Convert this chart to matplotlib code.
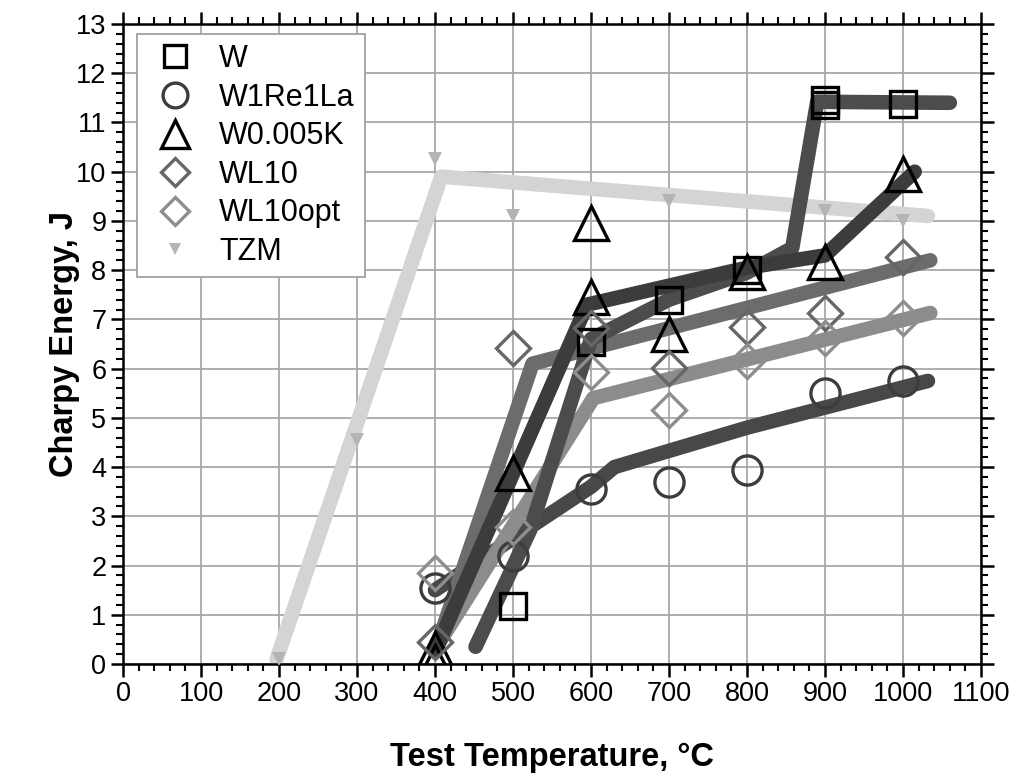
import numpy as np
import matplotlib
matplotlib.use("Agg")
import matplotlib.pyplot as plt
from matplotlib.ticker import MultipleLocator

plt.rcParams['font.family'] = ['Liberation Sans', 'DejaVu Sans']

# measured Charpy energies (J) vs test temperature (C)
w_T = [500, 600, 700, 800, 900, 900, 1000]
w_E = [1.18, 6.55, 7.4, 8.0, 11.35, 11.45, 11.38]
re_T = [400, 500, 600, 700, 800, 900, 1000]
re_E = [1.55, 2.2, 3.55, 3.7, 3.95, 5.5, 5.75]
k_T = [400, 400, 500, 600, 600, 700, 800, 900, 1000]
k_E = [0.05, 0.3, 3.88, 7.46, 8.96, 6.7, 7.97, 8.17, 9.95]
wl10_T = [400, 500, 600, 700, 800, 900, 1000]
wl10_E = [0.45, 6.42, 6.83, 6.02, 6.85, 7.13, 8.27]
opt_T = [400, 500, 600, 700, 800, 900, 1000]
opt_E = [1.85, 2.79, 5.93, 5.16, 6.15, 6.63, 7.03]
tzm_T = [200, 300, 400, 500, 700, 900, 1000]
tzm_E = [0.1, 4.55, 10.25, 9.1, 9.4, 9.2, 9.0]

# fitted trend lines (vertices)
tzm_fit_T = [197, 408, 1032]
tzm_fit_E = [0.1, 9.9, 9.1]
re_fit_T = [400, 600, 630, 800, 1032]
re_fit_E = [1.5, 3.6, 4.0, 4.8, 5.75]
k_fit_T = [400, 595, 800, 900, 1015]
k_fit_E = [0.25, 7.3, 8.05, 8.3, 10.0]
w_fit_T = [452, 522, 600, 700, 800, 858, 890, 1060]
w_fit_E = [0.35, 2.72, 6.6, 7.4, 7.95, 8.45, 11.42, 11.4]
wl10_fit_T = [400, 525, 1035]
wl10_fit_E = [0.25, 6.1, 8.2]
opt_fit_T = [400, 603, 1035]
opt_fit_E = [0.3, 5.4, 7.13]

fig = plt.figure(figsize=(10.21, 7.74), dpi=100)
ax = fig.add_axes([123/1021, 110/774, 858/1021, 640/774])

lw = 10.5
line_kw = dict(linewidth=lw, solid_capstyle='round', solid_joinstyle='round')
ax.plot(tzm_fit_T, tzm_fit_E, color='#d4d4d4', zorder=2, **line_kw)
ax.plot(re_fit_T, re_fit_E, color='#484848', zorder=3, **line_kw)
ax.plot(opt_fit_T, opt_fit_E, color='#8c8c8c', zorder=3, **line_kw)
ax.plot(wl10_fit_T, wl10_fit_E, color='#6c6c6c', zorder=3, **line_kw)
ax.plot(w_fit_T, w_fit_E, color='#4c4c4c', zorder=3, **line_kw)
ax.plot(k_fit_T, k_fit_E, color='#3c3c3c', zorder=3, **line_kw)

mk = dict(linestyle='none', markerfacecolor='none', markeredgewidth=2.4, zorder=5)
ax.plot(w_T, w_E, marker='s', markersize=19, markeredgecolor='black', label='W', **mk)
ax.plot(re_T, re_E, marker='o', markersize=21, markeredgecolor='#3c3c3c', label='W1Re1La', **mk)
ax.plot(k_T, k_E, marker='^', markersize=24, markeredgecolor='black', label='W0.005K', **mk)
ax.plot(wl10_T, wl10_E, marker='D', markersize=17, markeredgecolor='#666666', label='WL10', **mk)
ax.plot(opt_T, opt_E, marker='D', markersize=17, markeredgecolor='#8e8e8e', label='WL10opt', **mk)
ax.plot(tzm_T, tzm_E, linestyle='none', marker='v', markersize=10, color='#b4b4b4',
        markeredgewidth=0, label='TZM', zorder=4)

ax.set_xlim(0, 1100)
ax.set_ylim(0, 13)
ax.xaxis.set_major_locator(MultipleLocator(100))
ax.xaxis.set_minor_locator(MultipleLocator(20))
ax.yaxis.set_major_locator(MultipleLocator(1))
ax.yaxis.set_minor_locator(MultipleLocator(0.2))
ax.tick_params(which='both', direction='out', top=True, right=True,
               labelsize=19.5, pad=3)
ax.tick_params(which='major', length=9, width=1.8)
ax.tick_params(which='minor', length=5, width=1.5)
for s in ax.spines.values():
    s.set_linewidth(1.8)
ax.grid(True, which='major', color='#a8a8a8', linewidth=1.3)
ax.set_axisbelow(True)

ax.set_xlabel('Test Temperature, °C', fontsize=23.5, fontweight='bold')
ax.set_ylabel('Charpy Energy, J', fontsize=23.5, fontweight='bold')
ax.xaxis.set_label_coords(0.5, -0.122)
ax.yaxis.set_label_coords(-0.05, 0.5)

leg = ax.legend(loc='upper left', bbox_to_anchor=(14/858, 1 - 10/640), fontsize=22,
                markerscale=0.85, frameon=True, fancybox=False, framealpha=1,
                edgecolor='#a0a0a0', handlelength=1.85, handletextpad=0.5,
                labelspacing=0.28, borderpad=0.33, borderaxespad=0)
leg.get_frame().set_linewidth(1.3)
leg.set_zorder(10)

fig.savefig('out.png', dpi=100)
